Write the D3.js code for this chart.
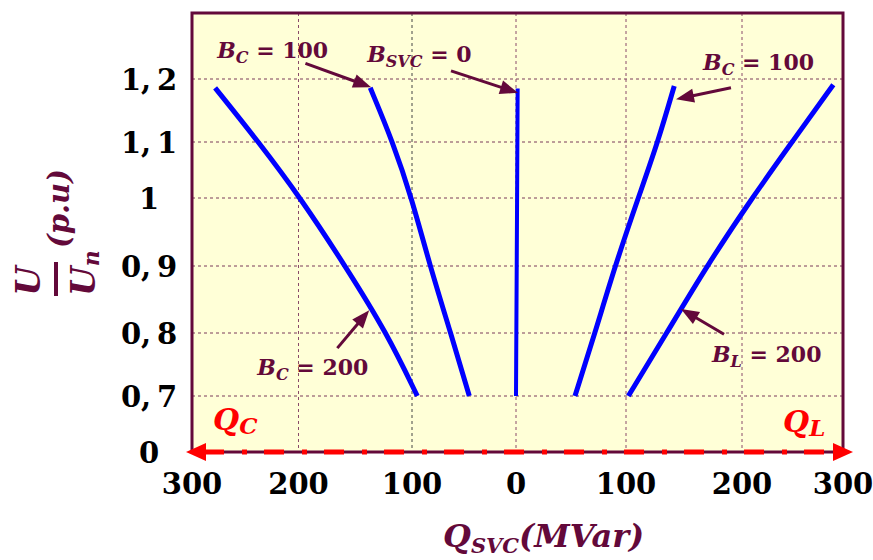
<!DOCTYPE html>
<html><head><meta charset="utf-8">
<script src="https://cdn.jsdelivr.net/npm/d3@7"></script>
<style>
body{margin:0;background:#fff;}
svg{display:block;}
</style></head>
<body>
<svg id="c" width="873" height="560"></svg>
<script>
// ---- data ----
const xTicks = [-300, -200, -100, 0, 100, 200, 300];
const xTickLabels = ["300", "200", "100", "0", "100", "200", "300"];
const yTicks = [0, 0.7, 0.8, 0.9, 1.0, 1.1, 1.2];
const yTickLabels = ["0", "0,\u20097", "0,\u20098", "0,\u20099", "1", "1,\u20091", "1,\u20092"];
const yGrid = [0.7, 0.8, 0.9, 1.0, 1.1, 1.2];
const xGrid = [-200, -100, 0, 100, 200];

// each curve: Q (MVar, negative = capacitive) vs U/Un
const curveBC200 = [[-278.3,1.186],[-237.5,1.1],[-198.2,1.0],[-158.8,0.9],[-122.2,0.8],[-94.9,0.7]];
const curveBC100 = [[-136.8,1.186],[-116.9,1.1],[-100.3,1.0],[-82.7,0.9],[-62.8,0.8],[-44.9,0.7]];
const curveBSVC0 = [[1.5,1.185],[1.0,1.0],[0,0.7]];
const curveBL100 = [[141.6,1.189],[127.5,1.1],[110.5,1.0],[90,0.9],[71.8,0.8],[53.6,0.7]];
const curveBL200 = [[290.4,1.191],[249.5,1.1],[209.9,1.0],[169.6,0.9],[135.1,0.8],[102,0.7]];
const curves = [curveBC200, curveBC100, curveBSVC0, curveBL100, curveBL200];

// annotations: label, text start (data), arrow from -> to (data)
const annotations = [
  {b:"B", sub:"C", rest:" = 100", tx:-276.4, ty:1.233, from:[-193.9,1.225], to:[-136,1.187]},
  {b:"B", sub:"SVC", rest:" = 0", tx:-139.5, ty:1.227, from:[-62.5,1.213], to:[1.8,1.178]},
  {b:"B", sub:"C", rest:" = 100", tx:166.4, ty:1.214, from:[190.5,1.186], to:[143.1,1.168]},
  {b:"B", sub:"C", rest:" = 200", tx:-238.7, ty:0.733, from:[-165.8,0.776], to:[-137.7,0.834]},
  {b:"B", sub:"L", rest:" = 200", tx:174.1, ty:0.754, from:[184.5,0.798], to:[147.4,0.836]}
];
const regionLabels = [
  {q:"Q", sub:"C", x:-280.2, y:0.275},
  {q:"Q", sub:"L", x:240.6, y:0.25}
];

// ---- scales ----
const x = d3.scaleLinear().domain([-300,-200,-100,0,100,200,300]).range([192,298.5,412,516,626,742,843]);
const y = d3.scaleLinear().domain([0,0.7,0.8,0.9,1.0,1.1,1.2,1.305]).range([452,396,333,266,198,142,79,13]);

const maroon = "#63093a";
const svg = d3.select("#c");
const X0 = x(-300), X1 = x(300), Y0 = y(0), Y1 = y(1.305);

// background
svg.append("rect").attr("x",X0).attr("y",Y1).attr("width",X1-X0).attr("height",Y0-Y1)
  .attr("fill","#ffffd7");

// grid
svg.append("g").selectAll("line").data(yGrid).join("line")
  .attr("x1",X0).attr("x2",X1).attr("y1",d=>y(d)).attr("y2",d=>y(d))
  .attr("stroke","#7a3a5a").attr("stroke-width",1).attr("stroke-dasharray","3,3");
svg.append("g").selectAll("line").data(xGrid).join("line")
  .attr("x1",d=>x(d)).attr("x2",d=>x(d)).attr("y1",Y1).attr("y2",Y0)
  .attr("stroke",d=>d===-100?"#444":"#8a4a6a").attr("stroke-width",1).attr("stroke-dasharray","3,3");

// frame
svg.append("rect").attr("x",X0).attr("y",Y1).attr("width",X1-X0).attr("height",Y0-Y1)
  .attr("fill","none").attr("stroke",maroon).attr("stroke-width",3);

// curves
const line = d3.line().x(d=>x(d[0])).y(d=>y(d[1])).curve(d3.curveBasis);
svg.append("g").selectAll("path").data(curves).join("path")
  .attr("d",line).attr("fill","none").attr("stroke","#0000ff")
  .attr("stroke-width",(d,i)=>i===2?4:5);

// red dash-dot double arrow along the Q axis
svg.append("line").attr("x1",X0+12).attr("x2",X1-2).attr("y1",Y0).attr("y2",Y0)
  .attr("stroke","#ff0000").attr("stroke-width",5).attr("stroke-dasharray","20,18,5,17");
svg.append("path").attr("d",`M${X0-6},${Y0} L${X0+14},${Y0-9} L${X0+14},${Y0+9} Z`).attr("fill","#ff0000");
svg.append("path").attr("d",`M${X1+10},${Y0} L${X1-10},${Y0-9} L${X1-10},${Y0+9} Z`).attr("fill","#ff0000");

// tick labels
const tickFont = "'DejaVu Serif', serif";
svg.append("g").selectAll("text").data(yTicks).join("text")
  .attr("x",149).attr("y",d=>y(d)+11).attr("text-anchor","middle")
  .attr("font-family",tickFont).attr("font-weight","bold").attr("font-size",29)
  .attr("fill","#000").text((d,i)=>yTickLabels[i]);
svg.append("g").selectAll("text").data(xTicks).join("text")
  .attr("x",d=>x(d)).attr("y",494).attr("text-anchor","middle")
  .attr("font-family",tickFont).attr("font-weight","bold").attr("font-size",29)
  .attr("fill","#000").text((d,i)=>xTickLabels[i]);

// annotations
const mathFont = "'DejaVu Serif', serif";
const ag = svg.append("g");
annotations.forEach(a=>{
  const t = ag.append("text").attr("x",x(a.tx)).attr("y",y(a.ty))
    .attr("font-family",mathFont).attr("font-weight","bold").attr("font-style","italic")
    .attr("font-size",22).attr("fill",maroon);
  t.append("tspan").text(a.b);
  t.append("tspan").attr("dy",5).attr("font-size",16).text(a.sub);
  t.append("tspan").attr("dy",-5).attr("font-style","normal").attr("xml:space","preserve").text(a.rest);
  const x1=x(a.from[0]), y1=y(a.from[1]), x2=x(a.to[0]), y2=y(a.to[1]);
  const ang = Math.atan2(y2-y1,x2-x1), L=18, W=7;
  const bx = x2-L*Math.cos(ang), by = y2-L*Math.sin(ang);
  ag.append("line").attr("x1",x1).attr("y1",y1).attr("x2",bx+2*Math.cos(ang)).attr("y2",by+2*Math.sin(ang))
    .attr("stroke",maroon).attr("stroke-width",3);
  ag.append("path").attr("d",`M${x2},${y2} L${bx-W*Math.sin(ang)},${by+W*Math.cos(ang)} L${bx+W*Math.sin(ang)},${by-W*Math.cos(ang)} Z`)
    .attr("fill",maroon);
});

// region labels Q_C, Q_L
regionLabels.forEach(r=>{
  const t = svg.append("text").attr("x",x(r.x)).attr("y",y(r.y))
    .attr("font-family",mathFont).attr("font-weight","bold").attr("font-style","italic")
    .attr("font-size",30).attr("fill","#ff0000");
  t.append("tspan").text(r.q);
  t.append("tspan").attr("dy",4).attr("font-size",23).text(r.sub);
});

// x axis title
const xt = svg.append("text").attr("x",443).attr("y",547)
  .attr("font-family",mathFont).attr("font-weight","bold").attr("font-style","italic")
  .attr("font-size",32).attr("fill",maroon);
xt.append("tspan").text("Q");
xt.append("tspan").attr("dy",6).attr("font-size",21).text("SVC");
xt.append("tspan").attr("dy",-6).text("(MVar)");

// y axis title (rotated fraction)
const yg = svg.append("g").attr("transform","translate(56,0) rotate(-90)");
yg.append("text").attr("x",-281).attr("y",-16).attr("text-anchor","middle")
  .attr("font-family",mathFont).attr("font-weight","bold").attr("font-style","italic")
  .attr("font-size",34).attr("fill",maroon).text("U");
yg.append("line").attr("x1",-296).attr("x2",-262).attr("y1",0).attr("y2",0)
  .attr("stroke",maroon).attr("stroke-width",4);
const dn = yg.append("text").attr("x",-296).attr("y",39)
  .attr("font-family",mathFont).attr("font-weight","bold").attr("font-style","italic")
  .attr("font-size",34).attr("fill",maroon);
dn.append("tspan").text("U");
dn.append("tspan").attr("dy",4).attr("font-size",22).text("n");
yg.append("text").attr("x",-248).attr("y",13)
  .attr("font-family",mathFont).attr("font-weight","bold").attr("font-style","italic")
  .attr("font-size",29).attr("fill",maroon).text("(p.u)");
</script>
</body></html>
